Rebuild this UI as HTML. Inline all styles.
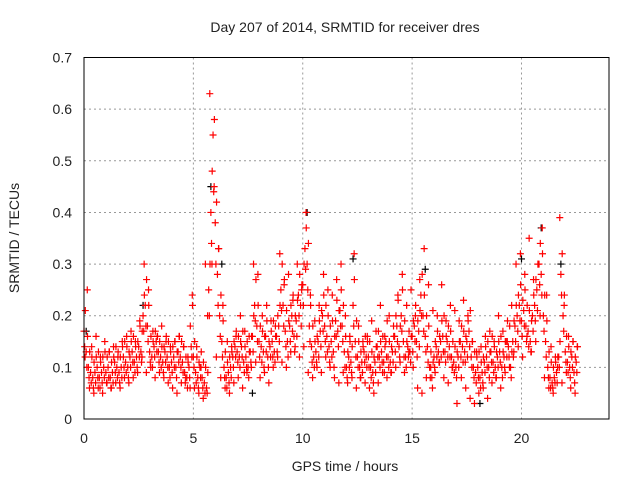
<!DOCTYPE html>
<html><head><meta charset="utf-8"><style>
body{margin:0;background:#fff;}
svg text{font-family:"Liberation Sans",sans-serif;font-size:14px;fill:#222;}
</style></head><body>
<svg id="chart" width="640" height="480" xmlns="http://www.w3.org/2000/svg">
<rect width="640" height="480" fill="#fff"/>
<g id="grid"></g>
<g id="pts"></g>
<rect x="84" y="57.5" width="525" height="361.5" fill="none" stroke="#000" stroke-width="1"/>
<g id="ticks"></g>
<text x="345" y="32" text-anchor="middle">Day 207 of 2014, SRMTID for receiver dres</text>
<text x="345" y="471" text-anchor="middle">GPS time / hours</text>
<text x="19" y="238" text-anchor="middle" transform="rotate(-90 19 238)">SRMTID / TECUs</text>
</svg>
<script>
const xTicks=[0,5,10,15,20];
const yTicks=[0,0.1,0.2,0.3,0.4,0.5,0.6,0.7];
const yTickLabels=["0","0.1","0.2","0.3","0.4","0.5","0.6","0.7"];
const seriesA=[.17,.13,.10,.09,.08,.09,.10,.08,.09,.10,
.09,.10,.08,.09,.11,.10,.09,.10,.12,.11,
.10,.12,.13,.11,.12,.14,.13,.20,.22,.18,
.13,.12,.14,.15,.13,.12,.11,.13,.12,.10,
.11,.12,.10,.13,.12,.11,.09,.08,.10,.14,
.12,.09,.08,.10,.08,.07,.06,.25,.40,.55,
.38,.28,.20,.15,.10,.08,.09,.10,.12,.14,
.13,.12,.14,.11,.12,.10,.13,.16,.22,.18,
.15,.14,.13,.16,.12,.14,.15,.13,.16,.18,
.25,.22,.17,.15,.18,.20,.16,.19,.24,.22,
.26,.33,.30,.18,.14,.12,.13,.15,.17,.20,
.18,.16,.14,.15,.13,.19,.17,.21,.18,.13,
.10,.12,.11,.22,.15,.12,.10,.11,.13,.12,
.12,.10,.09,.11,.14,.12,.13,.11,.15,.12,
.11,.13,.16,.18,.14,.20,.15,.12,.14,.13,
.16,.18,.15,.17,.24,.20,.16,.14,.10,.08,
.12,.14,.13,.15,.16,.13,.15,.14,.12,.11,
.10,.12,.15,.14,.13,.15,.17,.12,.10,.09,
.10,.08,.09,.11,.12,.10,.13,.11,.10,.12,
.13,.10,.12,.15,.14,.10,.15,.18,.20,.22,
.19,.21,.18,.17,.15,.20,.22,.25,.30,.28,
.20,.15,.10,.08,.07,.08,.09,.12,.28,.20,
.13,.11,.10,.12,.09,.11];
const seriesD=[.21,.16,.13,.12,.11,.12,.13,.11,.12,.13,
.12,.13,.11,.12,.14,.13,.12,.14,.15,.14,
.13,.15,.16,.14,.15,.18,.17,.24,.27,.22,
.16,.15,.17,.16,.15,.14,.14,.16,.15,.13,
.14,.15,.13,.16,.15,.14,.12,.11,.18,.22,
.15,.12,.11,.13,.11,.10,.09,.30,.48,.58,
.42,.33,.24,.19,.13,.11,.12,.13,.15,.17,
.16,.15,.17,.14,.15,.13,.16,.20,.27,.22,
.18,.17,.16,.19,.15,.17,.19,.16,.20,.22,
.30,.27,.21,.19,.22,.24,.20,.23,.28,.26,
.30,.37,.34,.22,.18,.15,.16,.19,.21,.24,
.22,.20,.18,.19,.16,.23,.21,.25,.22,.16,
.13,.15,.14,.27,.19,.15,.13,.14,.16,.15,
.15,.13,.12,.14,.17,.15,.16,.14,.19,.15,
.14,.16,.20,.23,.18,.25,.19,.15,.17,.16,
.19,.22,.19,.21,.28,.24,.20,.18,.13,.11,
.15,.17,.16,.19,.20,.16,.18,.17,.15,.14,
.13,.15,.18,.17,.16,.19,.21,.15,.13,.12,
.13,.11,.12,.14,.15,.13,.16,.14,.13,.15,
.16,.13,.15,.19,.18,.13,.19,.22,.24,.26,
.23,.25,.22,.21,.19,.24,.27,.30,.34,.32,
.24,.19,.13,.11,.10,.11,.12,.15,.32,.24,
.16,.14,.13,.15,.12,.14];
const seriesE=[.14,.10,.08,.07,.06,.07,.08,.06,.07,.08,
.07,.08,.06,.07,.09,.08,.07,.08,.10,.09,
.08,.10,.11,.09,.10,.12,.11,.17,.18,.15,
.11,.10,.12,.13,.11,.10,.09,.11,.10,.08,
.09,.10,.08,.11,.10,.09,.07,.06,.08,.12,
.10,.07,.06,.08,.06,.05,.05,.20,.34,.44,
.30,.22,.16,.12,.08,.06,.07,.08,.10,.12,
.11,.10,.12,.09,.10,.08,.11,.13,.19,.15,
.12,.11,.10,.13,.10,.12,.12,.11,.13,.15,
.21,.18,.14,.12,.15,.17,.13,.16,.20,.18,
.22,.29,.25,.15,.11,.10,.11,.12,.14,.17,
.15,.13,.11,.12,.10,.16,.14,.18,.15,.10,
.08,.10,.09,.18,.12,.10,.08,.09,.11,.10,
.10,.08,.07,.09,.12,.10,.11,.09,.12,.10,
.09,.11,.13,.15,.12,.17,.12,.10,.12,.11,
.13,.15,.12,.14,.20,.17,.13,.11,.08,.06,
.10,.12,.11,.12,.13,.11,.12,.12,.10,.09,
.08,.10,.12,.11,.11,.12,.14,.10,.08,.07,
.08,.06,.07,.09,.10,.08,.11,.09,.08,.10,
.11,.08,.10,.12,.12,.08,.12,.15,.17,.19,
.16,.18,.15,.14,.13,.17,.19,.21,.26,.24,
.17,.12,.08,.06,.06,.07,.07,.10,.24,.17,
.11,.09,.08,.10,.07,.09];
const seriesB=[.25,.14,.16,.12,.15,.13,.14,.12,.15,.16,
.17,.15,.19,.30,.25,.17,.16,.18,.15,.14,
.15,.16,.14,.12,.24,.14,.10,.30,.63,.45,
.33,.22,.15,.14,.16,.20,.17,.16,.30,.28,
.20,.22,.19,.18,.32,.26,.28,.23,.30,.25,
.40,.24,.19,.22,.28,.25,.24,.27,.30,.20,
.16,.32,.18,.15,.16,.19,.17,.22,.16,.20,
.18,.24,.28,.22,.25,.20,.27,.33,.26,.21,
.20,.26,.19,.22,.21,.19,.23,.20,.15,.13,
.14,.16,.17,.15,.20,.17,.15,.22,.30,.32,
.28,.35,.27,.30,.37,.24,.14,.12,.39,.22,
.16,.15,.14];
const seriesC=[.12,.06,.05,.06,.05,.07,.06,.07,.06,.08,
.07,.08,.09,.12,.09,.10,.08,.09,.08,.07,
.06,.05,.07,.08,.06,.06,.05,.04,.20,.30,
.12,.08,.06,.05,.07,.08,.06,.09,.10,.11,
.08,.09,.07,.10,.12,.11,.10,.13,.14,.12,
.14,.09,.08,.10,.09,.12,.10,.08,.07,.09,
.07,.08,.06,.08,.07,.06,.05,.07,.09,.08,
.09,.10,.11,.09,.13,.10,.06,.05,.08,.10,
.09,.11,.08,.07,.10,.03,.08,.06,.04,.03,
.05,.06,.04,.07,.08,.06,.09,.10,.13,.14,
.12,.16,.13,.15,.20,.08,.06,.05,.10,.07,
.09,.06,.05];
const blackX=[0.1,2.7,5.8,6.3,7.7,10.2,12.3,15.6,18.1,20.0,20.9,21.8];
const blackY=[0.17,0.22,0.45,0.30,0.05,0.40,0.31,0.29,0.03,0.31,0.37,0.30];

const NS="http://www.w3.org/2000/svg";
const X=h=>84+h*21.875, Y=v=>419-v*516.4;
const grid=document.getElementById('grid'), ticks=document.getElementById('ticks'), pts=document.getElementById('pts');
function mk(tag,attrs,parent){const e=document.createElementNS(NS,tag);for(const k in attrs)e.setAttribute(k,attrs[k]);parent.appendChild(e);return e;}
xTicks.forEach(t=>{
  if(t>0){const g=mk('line',{x1:X(t),x2:X(t),y1:57.5,y2:419,stroke:'#999','stroke-dasharray':'2,3'},grid);
  
  }
  const tk=mk('text',{x:X(t),y:443,'text-anchor':'middle'},ticks);tk.textContent=t;
  
  
});
yTicks.forEach((t,i)=>{
  if(t>0&&t<0.7){const g=mk('line',{x1:84,x2:609,y1:Y(t),y2:Y(t),stroke:'#999','stroke-dasharray':'2,3'},grid);
  
  }
  const tk=mk('text',{x:72,y:Y(t)+5,'text-anchor':'end'},ticks);tk.textContent=yTickLabels[i];
  
  
});
function plus(h,v,color){
  const x=X(h),y=Y(v);
  const p=mk('path',{d:`M${x-3.5} ${y}H${x+3.5}M${x} ${y-3.5}V${y+3.5}`,stroke:color,'stroke-width':1.2,fill:'none'},pts);
  
  
}
blackX.forEach((h,i)=>plus(h,blackY[i],'#000'));
seriesC.forEach((v,i)=>plus(0.05+i*0.2,v,'#f00'));
seriesE.forEach((v,i)=>plus(0.03+i*0.1,v,'#f00'));
seriesA.forEach((v,i)=>plus(i*0.1,v,'#f00'));
seriesD.forEach((v,i)=>plus(0.06+i*0.1,v,'#f00'));
seriesB.forEach((v,i)=>plus(0.15+i*0.2,v,'#f00'));
</script>
</body></html>
